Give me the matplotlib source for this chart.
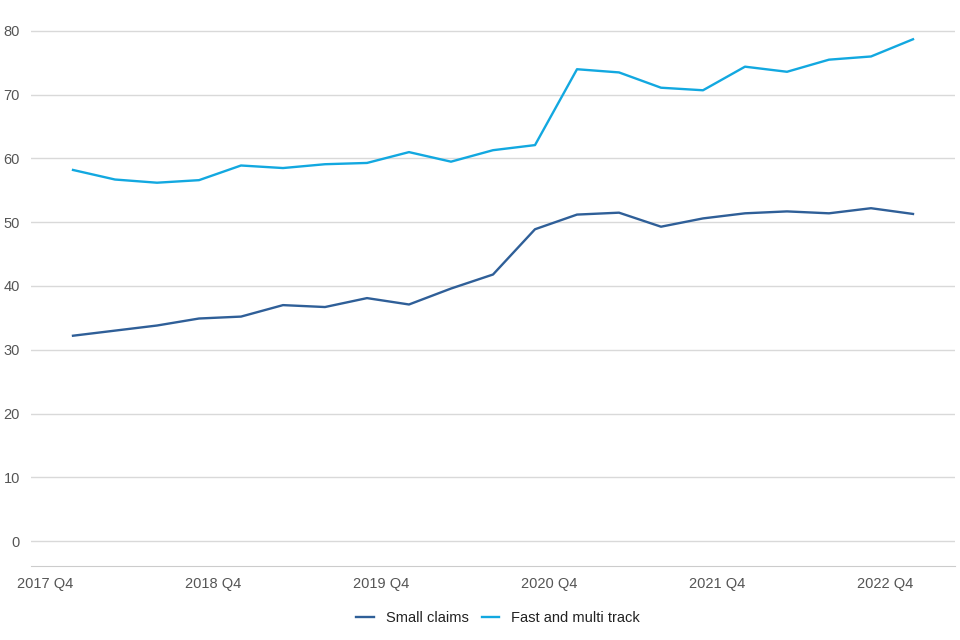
import matplotlib.pyplot as plt

# Quarterly values, 2017 Q4 to 2023 Q1
quarters = ["2017 Q4", "2018 Q1", "2018 Q2", "2018 Q3", "2018 Q4", "2019 Q1", "2019 Q2",
            "2019 Q3", "2019 Q4", "2020 Q1", "2020 Q2", "2020 Q3", "2020 Q4", "2021 Q1",
            "2021 Q2", "2021 Q3", "2021 Q4", "2022 Q1", "2022 Q2", "2022 Q3", "2022 Q4"]
small_claims = [32.2, 33.0, 33.8, 34.9, 35.2, 37.0, 36.7, 38.1, 37.1, 39.6, 41.8,
                48.9, 51.2, 51.5, 49.3, 50.6, 51.4, 51.7, 51.4, 52.2, 51.3]
fast_multi = [58.2, 56.7, 56.2, 56.6, 58.9, 58.5, 59.1, 59.3, 61.0, 59.5, 61.3,
              62.1, 74.0, 73.5, 71.1, 70.7, 74.4, 73.6, 75.5, 76.0, 78.7]
tick_labels = ["2017 Q4", "2018 Q4", "2019 Q4", "2020 Q4", "2021 Q4", "2022 Q4"]
yticks = [0, 10, 20, 30, 40, 50, 60, 70, 80]

plt.rcParams['font.family'] = ['Liberation Sans', 'DejaVu Sans']

fig = plt.figure(figsize=(9.6, 6.4), dpi=100)
ax = fig.add_axes([31 / 960, 74 / 640, 924 / 960, 541.4 / 640])

x = list(range(len(quarters)))
ax.plot(x, small_claims, color="#2f5f98", lw=1.7, label="Small claims")
ax.plot(x, fast_multi, color="#12a8e0", lw=1.7, label="Fast and multi track")

ax.set_xlim(-1, 21)
ax.set_ylim(-3.92, 81)

# category labels sit a little left of the Q4 points
pos = [quarters.index(q) - 0.67 for q in tick_labels]
ax.set_xticks(pos)
ax.set_xticklabels(tick_labels)
ax.set_yticks(yticks)
ax.tick_params(axis="both", length=0, colors="#555555", labelsize=10.5)
ax.tick_params(axis="y", pad=8)
ax.tick_params(axis="x", pad=8)

ax.grid(axis="y", color="#d9d9d9", lw=1)
ax.set_axisbelow(True)
for s in ["top", "right", "left"]:
    ax.spines[s].set_visible(False)
ax.spines["bottom"].set_color("#cccccc")

leg = fig.legend(loc="center", bbox_to_anchor=(498 / 960, 1 - 618 / 640), ncol=2, frameon=False,
                 fontsize=10.5, handlelength=1.2, handletextpad=0.8, columnspacing=0.9)
for t in leg.get_texts():
    t.set_color("#222222")

fig.savefig("out.png", dpi=100)
